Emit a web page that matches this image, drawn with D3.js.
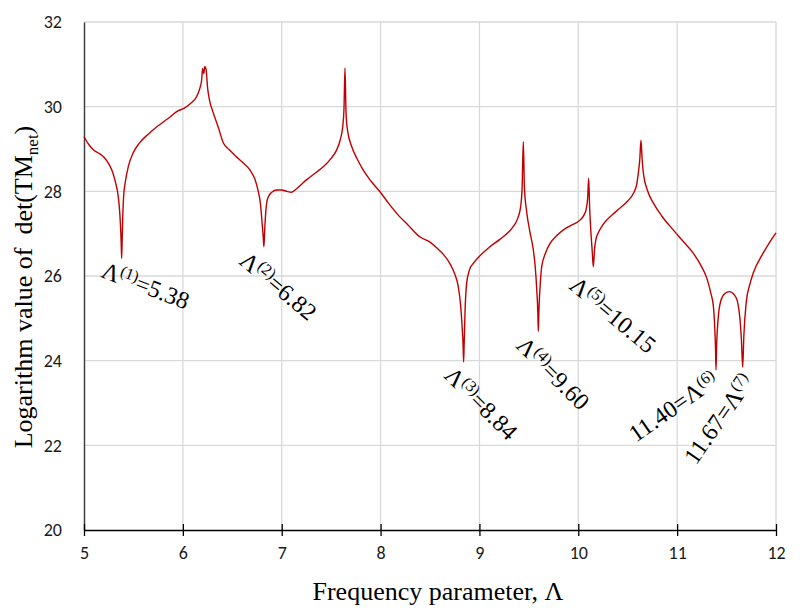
<!DOCTYPE html>
<html>
<head>
<meta charset="utf-8">
<script src="https://cdn.jsdelivr.net/npm/d3@7"></script>
<style>
  body { margin: 0; background: #fff; }
  .tick-label { font-family: Carlito, "Liberation Sans", sans-serif; font-size: 18px; fill: #1a1a1a; }
  .serif { font-family: "Liberation Serif", "Times New Roman", serif; fill: #000; }
</style>
</head>
<body>
<svg id="chart" width="800" height="611"></svg>
<script>
// frequency parameter values and log(det(TMnet))
const lambda = [
  5.00, 5.05, 5.10, 5.15, 5.20, 5.25, 5.29, 5.32, 5.345, 5.36, 5.370, 5.376, 5.381, 5.386, 5.392, 5.40,
  5.42, 5.45, 5.50, 5.56, 5.65, 5.74, 5.85, 5.95, 6.02, 6.08, 6.14, 6.17, 6.19, 6.200, 6.212, 6.222,
  6.235, 6.25, 6.27, 6.31, 6.36, 6.41, 6.47, 6.54, 6.62, 6.68, 6.73, 6.76, 6.785, 6.80, 6.812, 6.820,
  6.828, 6.84, 6.86, 6.90, 6.95, 7.00, 7.05, 7.10, 7.15, 7.25, 7.35, 7.42, 7.50, 7.556, 7.59, 7.617,
  7.630, 7.640, 7.650, 7.665, 7.708, 7.76, 7.825, 7.90, 7.994, 8.08, 8.163, 8.28, 8.40, 8.50, 8.57, 8.64,
  8.70, 8.75, 8.786, 8.81, 8.825, 8.835, 8.840, 8.845, 8.855, 8.871, 8.90, 8.938, 9.006, 9.10, 9.21, 9.30,
  9.343, 9.39, 9.417, 9.432, 9.444, 9.455, 9.48, 9.51, 9.545, 9.565, 9.58, 9.59, 9.596, 9.602, 9.615, 9.63,
  9.67, 9.714, 9.78, 9.85, 9.93, 10.017, 10.06, 10.08, 10.095, 10.105, 10.115, 10.13, 10.142, 10.152, 10.165, 10.18,
  10.20, 10.24, 10.287, 10.35, 10.42, 10.50, 10.557, 10.59, 10.607, 10.622, 10.634, 10.645, 10.66, 10.70, 10.76, 10.85,
  10.96, 11.06, 11.163, 11.24, 11.30, 11.34, 11.366, 11.38, 11.388, 11.393, 11.40, 11.415, 11.44, 11.48, 11.53, 11.58,
  11.61, 11.635, 11.65, 11.663, 11.675, 11.70, 11.735, 11.77, 11.87, 11.95, 12.00
];
const logDet = [
  29.29, 29.10, 28.97, 28.90, 28.81, 28.65, 28.45, 28.20, 27.90, 27.55, 27.15, 26.80, 26.42, 26.85, 27.40, 27.85,
  28.25, 28.60, 28.92, 29.14, 29.35, 29.53, 29.72, 29.90, 29.97, 30.08, 30.24, 30.42, 30.63, 30.90, 30.78, 30.95,
  30.88, 30.45, 30.15, 29.84, 29.50, 29.14, 28.98, 28.82, 28.65, 28.50, 28.28, 28.03, 27.70, 27.30, 26.95, 26.69,
  27.10, 27.55, 27.85, 27.98, 28.03, 28.03, 28.00, 27.98, 28.06, 28.27, 28.45, 28.58, 28.78, 28.98, 29.20, 29.53,
  29.95, 30.91, 29.90, 29.45, 29.06, 28.78, 28.50, 28.25, 27.99, 27.72, 27.48, 27.20, 26.92, 26.80, 26.66, 26.50,
  26.30, 26.05, 25.75, 25.30, 24.80, 24.35, 23.97, 24.35, 25.20, 25.83, 26.15, 26.30, 26.48, 26.68, 26.87, 27.05,
  27.17, 27.38, 27.64, 28.10, 29.17, 28.10, 27.48, 27.05, 26.62, 26.20, 25.67, 25.20, 24.69, 25.20, 25.80, 26.22,
  26.55, 26.77, 26.95, 27.09, 27.20, 27.32, 27.45, 27.58, 27.85, 28.31, 27.60, 26.95, 26.55, 26.22, 26.65, 26.88,
  27.01, 27.18, 27.32, 27.46, 27.60, 27.77, 27.95, 28.15, 28.43, 28.75, 29.21, 28.80, 28.40, 28.02, 27.72, 27.40,
  27.09, 26.82, 26.54, 26.25, 25.95, 25.60, 25.30, 24.80, 24.30, 23.78, 24.40, 25.00, 25.40, 25.58, 25.63, 25.55,
  25.40, 25.00, 24.50, 23.85, 24.60, 25.40, 25.80, 26.07, 26.54, 26.85, 27.02
];

const xTicks = [5, 6, 7, 8, 9, 10, 11, 12];
const yTicks = [20, 22, 24, 26, 28, 30, 32];

// root annotations: [text before sup, sup, text after sup, anchor lambda, anchor value, angle]
const rootLabels = [
  ["Λ", "(1)", "=5.38", 5.162, 25.98, 21],
  ["Λ", "(2)", "=6.82", 6.558, 26.31, 40],
  ["Λ", "(3)", "=8.84", 8.631, 23.62, 45],
  ["Λ", "(4)", "=9.60", 9.360, 24.33, 45],
  ["Λ", "(5)", "=10.15", 9.896, 25.72, 40],
  ["11.40=Λ", "(6)", "", 10.584, 22.06, -35],
  ["11.67=Λ", "(7)", "", 11.190, 21.52, -55]
];

const svg = d3.select("#chart");
const margin = {top: 22, right: 24, bottom: 81, left: 84};
const width = +svg.attr("width") - margin.left - margin.right;
const height = +svg.attr("height") - margin.top - margin.bottom;
const g = svg.append("g").attr("transform", "translate(" + margin.left + "," + margin.top + ")");

const x = d3.scaleLinear().domain([5, 12]).range([0, width]);
const y = d3.scaleLinear().domain([20, 32]).range([height, 0]);

// gridlines
g.append("g")
  .selectAll("line")
  .data(xTicks.slice(1))
  .join("line")
  .attr("x1", d => x(d)).attr("x2", d => x(d))
  .attr("y1", 0).attr("y2", height)
  .attr("stroke", "#d9d9d9").attr("stroke-width", 1.3);

g.append("g")
  .selectAll("line")
  .data(yTicks.slice(1))
  .join("line")
  .attr("x1", 0).attr("x2", width)
  .attr("y1", d => y(d)).attr("y2", d => y(d))
  .attr("stroke", "#d9d9d9").attr("stroke-width", 1.3);

// left axis (no ticks)
const yAxis = g.append("g")
  .call(d3.axisLeft(y).tickValues(yTicks).tickFormat(d3.format("d")).tickSize(0).tickPadding(22));
yAxis.select(".domain").attr("stroke", "#404040").attr("stroke-width", 1.5);
yAxis.selectAll("text").attr("class", "tick-label").attr("font-size", null).attr("font-family", null);

// bottom axis, ticks crossing the line
const xAxis = g.append("g")
  .attr("transform", "translate(0," + height + ")")
  .call(d3.axisBottom(x).tickValues(xTicks).tickFormat(d3.format("d")).tickSize(6).tickSizeOuter(0).tickPadding(10));
xAxis.select(".domain").attr("stroke", "#000").attr("stroke-width", 1.5);
xAxis.selectAll(".tick line").attr("y1", -6).attr("stroke", "#000").attr("stroke-width", 1.3);
xAxis.selectAll("text").attr("class", "tick-label").attr("font-size", null).attr("font-family", null);

// the curve
const pts = lambda.map((l, i) => [l, logDet[i]]);
const line = d3.line()
  .x(d => x(d[0]))
  .y(d => y(d[1]))
  .curve(d3.curveMonotoneX);

g.append("path")
  .datum(pts)
  .attr("fill", "none")
  .attr("stroke", "#c00000")
  .attr("stroke-width", 1.4)
  .attr("stroke-linejoin", "round")
  .attr("d", line);

// root labels
rootLabels.forEach(r => {
  const t = g.append("text")
    .attr("class", "serif")
    .attr("font-size", 24)
    .attr("transform", "translate(" + x(r[3]) + "," + y(r[4]) + ") rotate(" + r[5] + ")");
  t.append("tspan").text(r[0]);
  t.append("tspan").attr("font-size", 16).attr("dy", -8).text(r[1]);
  if (r[2]) t.append("tspan").attr("dy", 8).text(r[2]);
});

// axis titles
svg.append("text")
  .attr("class", "serif")
  .attr("font-size", 26)
  .attr("text-anchor", "middle")
  .attr("x", margin.left + width / 2 + 8)
  .attr("y", 600)
  .text("Frequency parameter, Λ");

const yt = svg.append("text")
  .attr("class", "serif")
  .attr("font-size", 26)
  .attr("text-anchor", "middle")
  .attr("transform", "translate(32,287) rotate(-90)");
yt.append("tspan").text("Logarithm value of \u00a0det(TM");
yt.append("tspan").attr("font-size", 17).attr("dy", 6).text("net");
yt.append("tspan").attr("dy", -6).text(")");
</script>
</body>
</html>
